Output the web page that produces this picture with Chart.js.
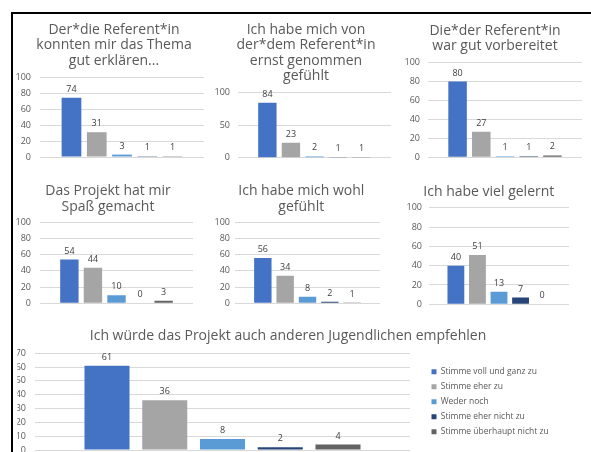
<!DOCTYPE html>
<html>
<head>
<meta charset="utf-8">
<script src="https://cdn.jsdelivr.net/npm/chart.js@4.4.1/dist/chart.umd.min.js"></script>
<style>
  html, body { margin: 0; padding: 0; background: #fff; width: 591px; height: 452px; overflow: hidden; position: relative; }
  .frame { position: absolute; left: 11px; top: 12px; width: 620px; height: 480px; border-left: 2px solid #000; border-top: 2px solid #000; }
  canvas { position: absolute; }
</style>
</head>
<body>
<div class="frame"></div>
<canvas id="c1"></canvas>
<canvas id="c2"></canvas>
<canvas id="c3"></canvas>
<canvas id="c4"></canvas>
<canvas id="c5"></canvas>
<canvas id="c6"></canvas>
<canvas id="c7"></canvas>
<script>
// Answer scale shared by every question
const answers = ['Stimme voll und ganz zu', 'Stimme eher zu', 'Weder noch', 'Stimme eher nicht zu', 'Stimme überhaupt nicht zu'];
const answerColors = ['#4472C4', '#A5A5A5', '#5B9BD5', '#264478', '#636363'];

// Counts per answer, one list per question
const erklaeren     = [74, 31, 3, 1, 1];
const ernstGenommen = [84, 23, 2, 1, 1];
const vorbereitet   = [80, 27, 1, 1, 2];
const spass         = [54, 44, 10, 0, 3];
const wohlGefuehlt  = [56, 34, 8, 2, 1];
const gelernt       = [40, 51, 13, 7, 0];
const empfehlen     = [61, 36, 8, 2, 4];

// Question titles (line breaks as printed)
const titleErklaeren   = ['Der*die Referent*in', 'konnten mir das Thema', 'gut erklären...'];
const titleErnst       = ['Ich habe mich von', 'der*dem Referent*in', 'ernst genommen', 'gefühlt'];
const titleVorbereitet = ['Die*der Referent*in', 'war gut vorbereitet'];
const titleSpass       = ['Das Projekt hat mir', 'Spaß gemacht'];
const titleWohl        = ['Ich habe mich wohl', 'gefühlt'];
const titleGelernt     = ['Ich habe viel gelernt'];
const titleEmpfehlen   = ['Ich würde das Projekt auch anderen Jugendlichen empfehlen'];

// Y axis ranges
const axisSmall = { max: 100, step: 20 };
const axisHalf  = { max: 100, step: 50 };
const axisWide  = { max: 70, step: 10 };

const FONT = '"Open Sans", "DejaVu Sans", sans-serif';
const TITLE_SIZE = 14;
const LINE_H = 15.5;
const GREY = '#595959';

// Value printed above every bar
const valueLabels = {
  id: 'valueLabels',
  afterDatasetsDraw(chart) {
    const ctx = chart.ctx;
    ctx.save();
    ctx.font = '9px ' + FONT;
    ctx.fillStyle = '#404040';
    ctx.textAlign = 'center';
    ctx.textBaseline = 'middle';
    chart.data.datasets.forEach((ds, i) => {
      chart.getDatasetMeta(i).data.forEach((bar, j) => {
        ctx.fillText(String(ds.data[j]), bar.x, bar.y - 8.5);
      });
    });
    ctx.restore();
  }
};

function measure(text, font) {
  const c = document.createElement('canvas').getContext('2d');
  c.font = font;
  return c.measureText(text).width;
}

// box: canvas rect (x, y, w, h), y-axis start S, tick gap tp, plot rect (L, R, T, B),
// title centre c and first line centre t0; optional legend left edge
function panel(id, title, values, axis, box) {
  const cv = document.getElementById(id);
  cv.style.left = box.x + 'px';
  cv.style.top = box.y + 'px';
  cv.width = box.w;
  cv.height = box.h;

  const lf = 8.5, lpad = 6.5, bw = 5;
  let S, E, gapW, legendOpts = { display: false };
  if (box.legend) {
    const maxText = Math.max(...answers.map(a => measure(a, lf + 'px ' + FONT)));
    const legendW = lpad + bw + lf / 2 + maxText + 10;
    E = box.legend + legendW;
    S = 2 * box.c - E;
    gapW = box.legend - box.R;
    legendOpts = {
      display: true, position: 'right', align: 'center', fullSize: false, maxWidth: 400,
      labels: { boxWidth: bw, boxHeight: bw, padding: lpad, color: GREY, font: { family: FONT, size: lf } }
    };
  } else {
    S = box.S;
    E = 2 * box.c - S;
    gapW = E - box.R;
  }
  const padL = S - box.x;
  const padR = box.x + box.w - E;
  const yWidth = box.L - S;
  const t0 = box.t0 + 1.5;
  const tPadTop = t0 - box.y - LINE_H / 2;
  const tPadBottom = box.T - box.y - tPadTop - title.length * LINE_H;
  const xHeight = box.y + box.h - box.B;

  const scales = {
    x: {
      display: true,
      grid: { display: false, drawTicks: false }, border: { display: false },
      ticks: { display: false },
      afterFit(s) { s.height = xHeight; }
    },
    y: {
      min: 0, max: axis.max,
      ticks: { stepSize: axis.step, color: GREY, padding: box.tp || 9, font: { family: FONT, size: 9 } },
      grid: { color: '#D9D9D9', drawTicks: false, lineWidth: 1 },
      border: { display: false },
      afterFit(s) { s.width = yWidth; }
    },
    gap: {
      type: 'linear', position: 'right', display: true,
      grid: { display: false, drawTicks: false }, border: { display: false },
      ticks: { display: false },
      afterFit(s) { s.width = gapW; }
    }
  };

  return new Chart(cv, {
    type: 'bar',
    data: {
      labels: [''],
      datasets: answers.map((a, i) => ({
        label: a, data: [values[i]], backgroundColor: answerColors[i], borderWidth: 0,
        categoryPercentage: 0.77, barPercentage: 0.78
      }))
    },
    options: {
      responsive: false, animation: false, devicePixelRatio: 1,
      layout: { padding: { left: padL, right: padR, top: 0, bottom: 0 } },
      plugins: {
        title: {
          display: true, text: title, color: GREY,
          font: { family: FONT, size: TITLE_SIZE, weight: 'normal', lineHeight: LINE_H / TITLE_SIZE },
          padding: { top: tPadTop, bottom: tPadBottom }
        },
        legend: legendOpts,
        tooltip: { enabled: false }
      },
      scales
    },
    plugins: [valueLabels]
  });
}

panel('c1', titleErklaeren, erklaeren, axisSmall,
  { x: 10, y: 14, w: 210, h: 160, S: 13, c: 114, t0: 28.3, L: 40, R: 204, T: 77, B: 157 });
panel('c2', titleErnst, ernstGenommen, axisHalf,
  { x: 205, y: 14, w: 200, h: 160, S: 212, tp: 8, c: 306, t0: 28.3, L: 238, R: 391, T: 92.3, B: 157.7 });
panel('c3', titleVorbereitet, vorbereitet, axisSmall,
  { x: 395, y: 14, w: 196, h: 160, S: 400, tp: 8, c: 495, t0: 29.3, L: 428, R: 582, T: 62.7, B: 157.3 });
panel('c4', titleSpass, spass, axisSmall,
  { x: 10, y: 170, w: 200, h: 150, S: 13, c: 108, t0: 190, L: 40, R: 193, T: 222.3, B: 303.3 });
panel('c5', titleWohl, wohlGefuehlt, axisSmall,
  { x: 205, y: 170, w: 190, h: 150, S: 211, tp: 5, c: 301.3, t0: 190, L: 235, R: 380, T: 222.3, B: 303.3 });
panel('c6', titleGelernt, gelernt, axisSmall,
  { x: 395, y: 170, w: 196, h: 150, S: 402, tp: 7, c: 488.8, t0: 190.7, L: 429, R: 569, T: 207.7, B: 304.3 });
panel('c7', titleEmpfehlen, empfehlen, axisWide,
  { x: 0, y: 318, w: 591, h: 150, c: 288, t0: 335, L: 35, R: 410, T: 353.3, B: 450, legend: 425 });
</script>
</body>
</html>
